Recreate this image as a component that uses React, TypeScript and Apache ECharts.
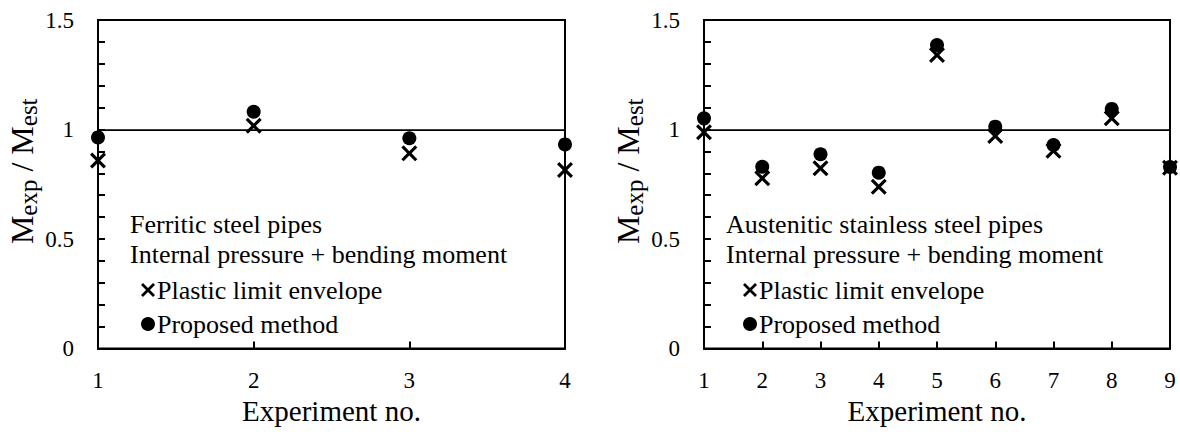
import React, { useEffect, useRef } from "react";
import * as echarts from "echarts";

// ---- data ----
const leftExperiments = [1, 2, 3, 4];
const leftPlastic = [0.858, 1.017, 0.891, 0.815];
const leftProposed = [0.964, 1.081, 0.96, 0.932];

const rightExperiments = [1, 2, 3, 4, 5, 6, 7, 8, 9];
const rightPlastic = [0.987, 0.777, 0.823, 0.739, 1.34, 0.97, 0.903, 1.051, 0.825];
const rightProposed = [1.051, 0.83, 0.887, 0.803, 1.386, 1.013, 0.929, 1.094, 0.829];

const seriesNames = ["Plastic limit envelope", "Proposed method"];
const leftCaption = ["Ferritic steel pipes", "Internal pressure + bending moment"];
const rightCaption = ["Austenitic stainless steel pipes", "Internal pressure + bending moment"];
const yTitle = "{m|M}{s|exp}{m| / M}{s|est}";
const xTitle = "Experiment no.";

const FONT = '"Liberation Serif", "Times New Roman", serif';
const X_PATH =
  "path://M0,14L14,0L50,36L86,0L100,14L64,50L100,86L86,100L50,64L14,100L0,86L36,50Z";

const pairs = (xs: number[], ys: number[]) => xs.map((x, i) => [x, ys[i]]);

const tickRich = { t: { fontFamily: FONT, fontSize: 23, color: "#000" } };
const LINE_W = 2;

function makeXAxis(gridIndex: number, max: number) {
  return {
    type: "value",
    gridIndex,
    min: 1,
    max,
    interval: 1,
    name: xTitle,
    nameLocation: "middle",
    nameGap: 44,
    nameTextStyle: { fontFamily: FONT, fontSize: 29, color: "#000" },
    axisLine: { show: true, lineStyle: { color: "#000", width: LINE_W } },
    axisTick: { show: true, inside: true, length: 7, lineStyle: { color: "#000", width: LINE_W } },
    axisLabel: {
      fontFamily: FONT,
      fontSize: 23,
      color: "#000",
      margin: 20,
      formatter: (v: number) => "{t|" + v + "}",
      rich: tickRich,
    },
    splitLine: { show: false },
  };
}

function makeYAxis(gridIndex: number) {
  return {
    type: "value",
    gridIndex,
    min: 0,
    max: 1.5,
    interval: 0.5,
    name: yTitle,
    nameLocation: "middle",
    nameGap: 52,
    nameTextStyle: {
      color: "#000",
      padding: [0, 0, 0, 26],
      rich: {
        m: { fontFamily: FONT, fontSize: 32, lineHeight: 36, color: "#000" },
        s: { fontFamily: FONT, fontSize: 25, lineHeight: 25, padding: [14, 0, 0, 0], color: "#000" },
      },
    },
    axisLine: { show: true, lineStyle: { color: "#000", width: LINE_W } },
    axisTick: { show: true, inside: true, length: 7, lineStyle: { color: "#000", width: LINE_W } },
    minorTick: { show: true, splitNumber: 5, length: 7, lineStyle: { color: "#000", width: LINE_W } },
    axisLabel: {
      fontFamily: FONT,
      fontSize: 23,
      color: "#000",
      margin: 24,
      formatter: (v: number) => "{t|" + v + "}",
      rich: tickRich,
    },
    splitLine: { show: false },
    minorSplitLine: { show: false },
  };
}

function makeSeries(idx: number, xs: number[], plastic: number[], proposed: number[]) {
  return [
    {
      type: "scatter",
      name: seriesNames[0],
      xAxisIndex: idx,
      yAxisIndex: idx,
      symbol: X_PATH,
      symbolSize: 16,
      itemStyle: { color: "#000", opacity: 1 },
      data: pairs(xs, plastic),
      z: 3,
    },
    {
      type: "scatter",
      name: seriesNames[1],
      xAxisIndex: idx,
      yAxisIndex: idx,
      symbol: "circle",
      symbolSize: 14,
      itemStyle: { color: "#000", opacity: 1 },
      data: pairs(xs, proposed),
      z: 4,
      markLine: {
        silent: true,
        symbol: ["none", "none"],
        label: { show: false },
        lineStyle: { color: "#000", type: "solid", width: 1.75 },
        data: [{ yAxis: 1 }],
        z: 2,
      },
    },
  ];
}

function makeLegend(left: number) {
  return {
    orient: "vertical",
    left,
    top: 277,
    padding: 0,
    itemWidth: 14,
    itemHeight: 14,
    itemGap: 8,
    selectedMode: false,
    itemStyle: { opacity: 1 },
    textStyle: { fontFamily: FONT, fontSize: 26, color: "#000", padding: [0, 0, 0, -3] },
    data: [
      { name: seriesNames[0], icon: X_PATH },
      { name: seriesNames[1], icon: "circle" },
    ],
  };
}

function captionTexts(x: number, lines: string[]) {
  return lines.map((t, i) => ({
    type: "text",
    x,
    y: 224 + i * 30,
    silent: true,
    style: {
      text: t,
      fill: "#000",
      fontFamily: FONT,
      fontSize: 26,
      align: "left",
      verticalAlign: "middle",
    },
  }));
}

export default function App() {
  const ref = useRef<HTMLDivElement>(null);
  useEffect(() => {
    if (!ref.current) return;
    const chart = echarts.init(ref.current, undefined, { renderer: "svg" });
    chart.setOption({
      animation: false,
      backgroundColor: "#fff",
      textStyle: { fontFamily: FONT, fontSize: 23, color: "#000" },
      grid: [
        { left: 98, top: 20, right: 615, bottom: 85.5, show: true, borderColor: "#000", borderWidth: LINE_W, backgroundColor: "transparent" },
        { left: 704, top: 20, right: 10, bottom: 85.5, show: true, borderColor: "#000", borderWidth: LINE_W, backgroundColor: "transparent" },
      ],
      xAxis: [makeXAxis(0, 4), makeXAxis(1, 9)],
      yAxis: [makeYAxis(0), makeYAxis(1)],
      legend: [makeLegend(141), makeLegend(743)],
      graphic: [...captionTexts(130, leftCaption), ...captionTexts(726, rightCaption)],
      series: [
        ...makeSeries(0, leftExperiments, leftPlastic, leftProposed),
        ...makeSeries(1, rightExperiments, rightPlastic, rightProposed),
      ],
    });
    return () => chart.dispose();
  }, []);
  return (
    <div
      ref={ref}
      style={{ position: "fixed", left: 0, top: 0, width: 1180, height: 434, background: "#fff" }}
    />
  );
}
